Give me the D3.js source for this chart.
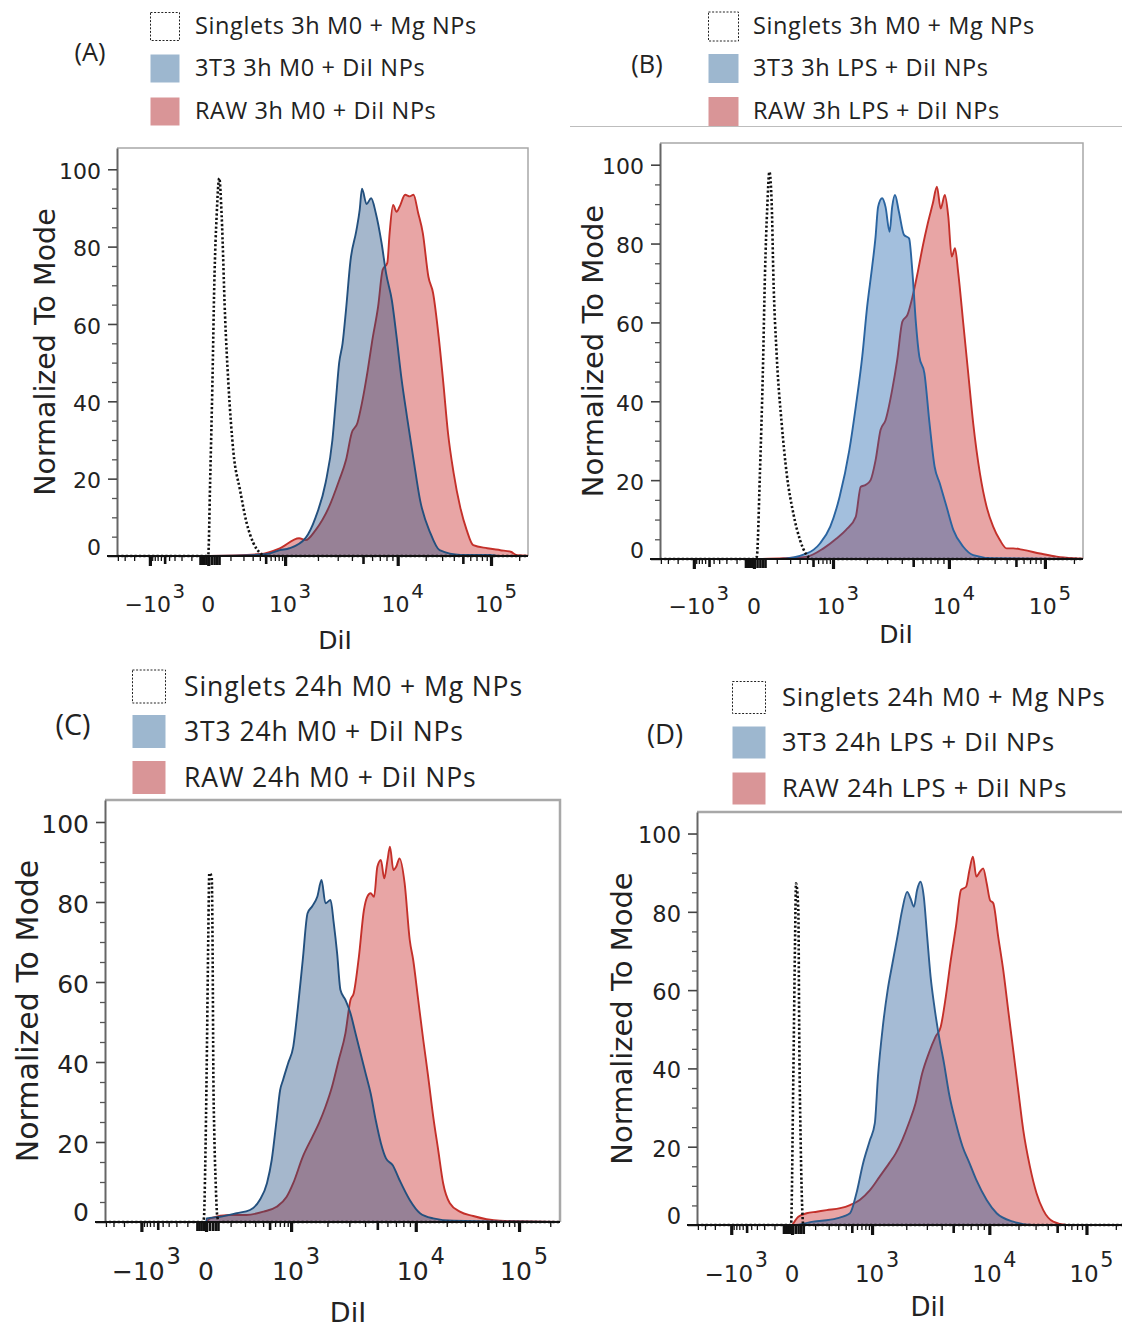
<!DOCTYPE html>
<html>
<head>
<meta charset="utf-8">
<script src="https://cdn.jsdelivr.net/npm/d3@7"></script>
<style>
  body { margin: 0; background: #fff; }
  svg { display: block; }
</style>
</head>
<body>
<div id="chart"></div>
<script>
// ---------------- data ----------------
const PANEL_LETTERS = ["(A)", "(B)", "(C)", "(D)"];
const LEGENDS = [
  ["Singlets 3h M0 + Mg NPs", "3T3 3h M0 + DiI NPs", "RAW 3h M0 + DiI NPs"],
  ["Singlets 3h M0 + Mg NPs", "3T3 3h LPS + DiI NPs", "RAW 3h LPS + DiI NPs"],
  ["Singlets 24h M0 + Mg NPs", "3T3 24h M0 + DiI NPs", "RAW 24h M0 + DiI NPs"],
  ["Singlets 24h M0 + Mg NPs", "3T3 24h LPS + DiI NPs", "RAW 24h LPS + DiI NPs"],
];
const Y_TITLE = "Normalized To Mode";
const X_TITLE = "DiI";
const Y_TICKS = [0, 20, 40, 60, 80, 100];
const Y_MINOR = [5, 10, 15, 25, 30, 35, 45, 50, 55, 65, 70, 75, 85, 90, 95];
const X_TICKS = [-1000, 0, 1000, 10000, 100000];
const X_TICK_LABELS = [["\u221210", "3"], ["0", ""], ["10", "3"], ["10", "4"], ["10", "5"]];
const X_MID = [-500, 500, 5000, 50000];
const X_ZERO = [-40, -30, -20, -10, 10, 20, 30, 40];
const X_MINOR = [-4000, -3000, -2000, -900, -800, -700, -600, -400, -300, -200, -100,
  100, 200, 300, 400, 600, 700, 800, 900,
  2000, 3000, 4000, 6000, 7000, 8000, 9000,
  20000, 30000, 40000, 60000, 70000, 80000, 90000, 200000];

// singlets: [DiI, % of mode]
const A_SINGLETS = [[-5000, 0], [-6, 0], [0, 0.2], [6, 19], [14, 45], [21, 71], [30, 88], [41, 97.7],
  [52, 88], [69, 62], [87, 45], [119, 27], [170, 17], [232, 8.5], [308, 3.4], [403, 0.8], [500, 0], [300000, 0]];
const B_SINGLETS = [[-5000, 0], [0, 0], [9, 0.5], [20, 21.8], [31, 47], [40, 72.5], [50, 89.3], [60, 98.2],
  [72, 89.3], [80, 72.5], [100, 51.3], [132, 34.4], [170, 21.7], [230, 11.6], [305, 4.8], [395, 1], [477, 0], [300000, 0]];
const C_SINGLETS = [[-5000, 0], [-12, 0], [-8, 1], [-3, 13.8], [2, 38.8], [6.7, 72], [9.7, 87.2],
  [17.4, 86.3], [20.8, 63.8], [22.8, 38.8], [26.3, 22.2], [31.4, 9.7], [37.5, 1.3], [45, 0], [300000, 0]];
const D_SINGLETS = [[-5000, 0], [-4, 0], [4, 37.9], [9.4, 72], [12.7, 87.3], [20.8, 80.5],
  [24.4, 46.4], [29.7, 20.9], [36, 3.8], [40, 0], [300000, 0]];

// 3T3 and RAW: [log10 DiI, % of mode]
const A_3T3 = [[0.5, 0], [2.43, 0.2], [2.72, 0.5], [2.92, 1.5], [3.04, 2], [3.19, 4.7], [3.28, 10], [3.37, 19],
  [3.43, 30], [3.46, 40], [3.49, 50], [3.52, 55], [3.55, 63.6], [3.59, 76.5], [3.64, 84], [3.67, 89.5],
  [3.69, 95], [3.73, 91], [3.77, 92.5], [3.81, 88.7], [3.86, 81], [3.90, 73], [3.95, 66], [3.99, 56.7],
  [4.04, 46], [4.10, 36], [4.17, 25], [4.24, 14.5], [4.35, 6], [4.45, 1.5], [4.67, 0.3], [4.99, 0.3],
  [5.1, 0], [5.5, 0]];
const A_RAW = [[0.5, 0], [2.61, 0.5], [2.92, 2], [3.13, 4.6], [3.19, 4.1], [3.28, 6.7], [3.40, 12.7],
  [3.49, 19.6], [3.55, 24.8], [3.60, 31.8], [3.65, 34.4], [3.69, 39.6], [3.74, 48], [3.78, 55.8],
  [3.83, 64.4], [3.87, 74], [3.91, 75.8], [3.93, 83.5], [3.96, 90.8], [3.99, 89], [4.02, 90.3],
  [4.08, 93.4], [4.13, 93], [4.17, 93.4], [4.22, 88.7], [4.27, 83.5], [4.33, 72.2], [4.38, 68],
  [4.44, 56.7], [4.49, 44.7], [4.54, 31.8], [4.60, 21.5], [4.67, 12.7], [4.74, 6.7], [4.81, 2.8],
  [4.96, 2], [5.10, 1.5], [5.21, 1.1], [5.28, 0.2], [5.5, 0]];

const B_3T3 = [[0.5, 0], [2.08, 0], [2.60, 1.4], [2.81, 4], [2.96, 8.2], [3.06, 15.8], [3.147, 27.6],
  [3.204, 38.6], [3.261, 51.3], [3.304, 64], [3.347, 74], [3.377, 81.7], [3.399, 89.3], [3.434, 91.5],
  [3.463, 89.3], [3.498, 83], [3.52, 89.3], [3.544, 92.3], [3.578, 88], [3.621, 82.2], [3.664, 81.3],
  [3.693, 72.5], [3.722, 59.8], [3.751, 51.3], [3.794, 47.1], [3.837, 34.4], [3.88, 23.4], [3.923, 19.2],
  [3.98, 13.3], [4.046, 7.4], [4.15, 3.1], [4.254, 1], [4.463, 0.2], [5.5, 0]];
const B_RAW = [[0.5, 0], [2.16, 0.2], [2.60, 0.6], [2.86, 2.7], [3.032, 5.2], [3.118, 7.4], [3.204, 10.7],
  [3.248, 18.3], [3.291, 18.8], [3.334, 20], [3.377, 25], [3.42, 32.7], [3.463, 35.2], [3.52, 42.9],
  [3.563, 50.5], [3.607, 60.2], [3.65, 61.9], [3.693, 66.5], [3.736, 72.5], [3.779, 79.2], [3.822, 85.1],
  [3.865, 90.2], [3.899, 94.4], [3.931, 88.9], [3.966, 92.3], [3.995, 86.8], [4.029, 76.7], [4.064, 78.8],
  [4.098, 72.5], [4.15, 59.8], [4.202, 47.1], [4.254, 34.4], [4.324, 21.7], [4.393, 13.3], [4.462, 8.2],
  [4.532, 4.8], [4.602, 2.7], [4.671, 2.7], [4.775, 2.3], [4.949, 1.4], [5.123, 0.6], [5.296, 0.2], [5.5, 0]];

const C_3T3 = [[0, 0], [0.3, 0.9], [1.68, 1.3], [2.14, 2.2], [2.39, 3], [2.55, 5.5], [2.66, 9.7], [2.73, 15.5],
  [2.80, 25.5], [2.85, 33], [2.89, 35.5], [2.96, 39.7], [3.018, 43.8], [3.058, 53.8], [3.098, 65.5],
  [3.138, 77.2], [3.178, 79], [3.218, 81.3], [3.253, 85.5], [3.285, 79.7], [3.326, 80.5], [3.352, 74.7],
  [3.379, 67.2], [3.406, 58], [3.446, 55.5], [3.486, 52.2], [3.526, 47.2], [3.566, 42.2], [3.606, 37.2],
  [3.646, 32.2], [3.686, 25.5], [3.727, 19.7], [3.767, 15.9], [3.82, 14.2], [3.873, 10.5], [3.953, 5.5],
  [4.041, 2.2], [4.17, 0.9], [4.363, 0.3], [5.5, 0]];
const C_RAW = [[0, 0], [1.08, 0.9], [1.99, 1.75], [2.33, 1.75], [2.61, 2.6], [2.80, 3.8], [2.94, 6.3],
  [3.018, 9.7], [3.098, 16.3], [3.178, 21.3], [3.232, 24.7], [3.285, 28.8], [3.338, 33.8], [3.392, 40.5],
  [3.446, 47.2], [3.486, 55.5], [3.512, 57.2], [3.553, 66.3], [3.593, 78], [3.619, 81.3], [3.646, 82.2],
  [3.673, 81.3], [3.699, 88.8], [3.727, 90.5], [3.753, 85.9], [3.779, 90.5], [3.798, 93.8], [3.825, 88],
  [3.847, 88.8], [3.873, 90.9], [3.913, 84.7], [3.953, 70.5], [3.98, 65.5], [4.024, 55.5], [4.073, 45.5],
  [4.121, 36.3], [4.17, 26.3], [4.218, 18], [4.266, 9.7], [4.331, 4.7], [4.428, 2.6], [4.557, 1.5],
  [4.686, 0.7], [4.815, 0.3], [5.5, 0]];

const D_3T3 = [[0, 0], [0.6, 0], [1.95, 0.85], [2.45, 1.7], [2.67, 3], [2.77, 8.1], [2.87, 15.8], [2.97, 21.7],
  [3.025, 26], [3.053, 37.9], [3.096, 50.6], [3.139, 60], [3.181, 66.8], [3.224, 73.6], [3.266, 80.5],
  [3.309, 85.1], [3.338, 83.4], [3.367, 81.3], [3.394, 85.6], [3.423, 87.7], [3.451, 83.9], [3.48, 73.6],
  [3.509, 63.4], [3.537, 56.6], [3.58, 48.1], [3.622, 41.3], [3.664, 33.6], [3.722, 26], [3.778, 20],
  [3.835, 15.8], [3.892, 11.5], [3.978, 6.4], [4.076, 3], [4.247, 0.85], [4.453, 0], [5.5, 0]];
const D_RAW = [[0, 0], [1.32, 2.1], [1.74, 3], [2.04, 3.4], [2.26, 3.8], [2.51, 4.3], [2.67, 5.1], [2.82, 6.4],
  [2.97, 8.9], [3.067, 12.3], [3.153, 15.8], [3.21, 18.3], [3.266, 21.7], [3.323, 26], [3.381, 31.1],
  [3.437, 38.7], [3.494, 43.9], [3.551, 48.1], [3.594, 50.6], [3.637, 58.3], [3.679, 67.7], [3.722, 76.2],
  [3.765, 85.6], [3.807, 86.4], [3.835, 90.7], [3.864, 94.1], [3.892, 89], [3.921, 90.2], [3.949, 91.1],
  [3.978, 87.3], [4.007, 83], [4.041, 82.2], [4.092, 73.6], [4.144, 65.1], [4.195, 54.9], [4.247, 44.7],
  [4.298, 34.5], [4.35, 24.3], [4.419, 14.9], [4.487, 8.1], [4.556, 3.8], [4.659, 0.85], [4.796, 0], [5.5, 0]];

const SINGLETS = [A_SINGLETS, B_SINGLETS, C_SINGLETS, D_SINGLETS];
const CELLS_3T3 = [A_3T3, B_3T3, C_3T3, D_3T3];
const CELLS_RAW = [A_RAW, B_RAW, C_RAW, D_RAW];

// ---------------- layout ----------------
const Y_MAX = 105.5;
const X_ANCHORS = [0.08, 0.222, 0.409, 0.683, 0.91]; // share of plot width for X_TICKS

const LAYOUT = [
  { left: 117, right: 528, top: 148, bottom: 556, yTick: 22, xTick: 22, yTitle: 28.5, xTitle: 25,
    yTitleX: 45, xTitleX: 335, xTitleY: 640, xLabDy: 48,
    letterX: 90, letterY: 52, swX: 150, swW: 29, swH: 28, rows: [26, 68, 111], textX: 195,
    legFont: 23.5, legSpacing: 0.6, frame: 1.5,
    blueFill: "rgb(30,75,128)", blueLine: "#23507e" },
  { left: 660, right: 1083, top: 143, bottom: 559, yTick: 22, xTick: 22, yTitle: 29, xTitle: 25,
    yTitleX: 593, xTitleX: 896, xTitleY: 634, xLabDy: 47,
    letterX: 647, letterY: 64, swX: 708, swW: 30, swH: 29, rows: [26, 68, 111], textX: 753,
    legFont: 23.5, legSpacing: 0.6, frame: 1.5,
    blueFill: "rgb(25,95,170)", blueLine: "#2a64a0" },
  { left: 105, right: 560, top: 800, bottom: 1222, yTick: 25, xTick: 25, yTitle: 30, xTitle: 27,
    yTitleX: 27, xTitleX: 348, xTitleY: 1312, xLabDy: 49,
    letterX: 73, letterY: 725, swX: 132, swW: 33, swH: 33, rows: [686, 731, 777], textX: 184,
    legFont: 26.5, legSpacing: 0.9, frame: 2.5,
    blueFill: "rgb(30,75,128)", blueLine: "#23507e" },
  { left: 697, right: 1125, top: 812, bottom: 1225, yTick: 22.5, xTick: 23, yTitle: 29, xTitle: 26,
    yTitleX: 622, xTitleX: 928, xTitleY: 1307, xLabDy: 49,
    letterX: 665, letterY: 734, swX: 732, swW: 33, swH: 32, rows: [697, 742, 788], textX: 782,
    legFont: 25.5, legSpacing: 0.75, frame: 2.5,
    blueFill: "rgb(30,85,150)", blueLine: "#2c5c8e" },
];

const COLORS = {
  redFill: "rgb(205,55,55)", redLine: "#c4302a",
  blueSwatch: "#9db7cf", redSwatch: "#d99597",
  frame: "#a8a8a8", axis: "#666", text: "#222",
};
const AXIS_FONT = "'DejaVu Sans', sans-serif";
const LEGEND_FONT = "'Open Sans', sans-serif";

const svg = d3.select("#chart").append("svg")
  .attr("width", 1122).attr("height", 1327);

// thin separator under the legend of panel B
svg.append("line")
  .attr("x1", 570).attr("x2", 1122).attr("y1", 126.5).attr("y2", 126.5)
  .attr("stroke", "#bdbdbd").attr("stroke-width", 1);

LAYOUT.forEach((L, i) => drawPanel(i, L));

function drawPanel(i, L) {
  const w = L.right - L.left;
  const h = L.bottom - L.top;

  const x = d3.scaleSymlog().constant(100)
    .domain(X_TICKS)
    .range(X_ANCHORS.map((f) => f * w));
  const y = d3.scaleLinear().domain([0, Y_MAX]).range([h, 0]);

  const g = svg.append("g").attr("transform", `translate(${L.left},${L.top})`);

  g.append("clipPath").attr("id", `clip-${i}`)
    .append("rect").attr("x", 0).attr("y", -2).attr("width", w).attr("height", h + 4);

  // frame (top + right)
  g.append("path")
    .attr("d", `M0,0H${w}V${h}`)
    .attr("fill", "none").attr("stroke", COLORS.frame).attr("stroke-width", L.frame);

  const plot = g.append("g").attr("clip-path", `url(#clip-${i})`);

  const fromLog = (d) => Math.pow(10, d[0]);
  const area = (fx) => d3.area().x((d) => x(fx(d))).y0(y(0)).y1((d) => y(d[1])).curve(d3.curveMonotoneX);
  const line = (fx) => d3.line().x((d) => x(fx(d))).y((d) => y(d[1])).curve(d3.curveMonotoneX);

  // RAW (red) first, 3T3 (blue) on top
  plot.append("path").datum(CELLS_RAW[i]).attr("d", area(fromLog))
    .attr("fill", COLORS.redFill).attr("fill-opacity", 0.45);
  plot.append("path").datum(CELLS_RAW[i]).attr("d", line(fromLog))
    .attr("fill", "none").attr("stroke", COLORS.redLine).attr("stroke-width", 1.9);
  plot.append("path").datum(CELLS_3T3[i]).attr("d", area(fromLog))
    .attr("fill", L.blueFill).attr("fill-opacity", 0.4);
  plot.append("path").datum(CELLS_3T3[i]).attr("d", line(fromLog))
    .attr("fill", "none").attr("stroke", L.blueLine).attr("stroke-width", 1.9);

  // Singlets, dotted
  plot.append("path").datum(SINGLETS[i]).attr("d", line((d) => d[0]))
    .attr("fill", "none").attr("stroke", "#111").attr("stroke-width", 2.6)
    .attr("stroke-dasharray", "2.2,2.2");

  // y axis
  const yAxis = g.append("g").call(d3.axisLeft(y).tickValues(Y_TICKS).tickSize(9).tickSizeOuter(0).tickPadding(7));
  yAxis.select(".domain").attr("stroke", COLORS.axis).attr("stroke-width", 2);
  yAxis.selectAll(".tick line").attr("stroke", "#444").attr("stroke-width", 1.6);
  yAxis.selectAll(".tick text")
    .attr("font-family", AXIS_FONT).attr("font-size", L.yTick).attr("fill", COLORS.text)
    .attr("dy", (d) => (d === 0 ? "-0.05em" : "0.42em"));
  g.append("g").call(d3.axisLeft(y).tickValues(Y_MINOR).tickSize(5).tickFormat(""))
    .call((a) => a.select(".domain").remove())
    .selectAll(".tick line").attr("stroke", "#555").attr("stroke-width", 1.3);

  // x axis: baseline + biexponential ticks
  g.append("line").attr("x1", -10).attr("x2", w).attr("y1", h).attr("y2", h)
    .attr("stroke", "#111").attr("stroke-width", 2);
  const inside = (vals) => vals.filter((v) => x(v) >= 0 && x(v) <= w);
  const tickRow = (vals, size, width) => {
    const a = g.append("g").attr("transform", `translate(0,${h})`)
      .call(d3.axisBottom(x).tickValues(inside(vals)).tickSize(size).tickFormat(""));
    a.select(".domain").remove();
    a.selectAll(".tick line").attr("stroke", "#111").attr("stroke-width", width);
  };
  tickRow(X_MINOR, 5, 1.3);
  tickRow(X_MID, 8, 2.6);
  tickRow(X_ZERO, 9, 2.6);
  tickRow(X_TICKS, 10, 3.2);

  const labs = g.append("g").attr("font-family", AXIS_FONT).attr("fill", COLORS.text)
    .attr("font-size", L.xTick).attr("text-anchor", "middle");
  X_TICKS.forEach((v, k) => {
    const [base, sup] = X_TICK_LABELS[k];
    const t = labs.append("text")
      .attr("x", x(v) + (sup ? 5 : 0)).attr("y", h + L.xLabDy).attr("dy", "0.36em");
    t.append("tspan").text(base);
    if (sup) t.append("tspan").attr("font-size", L.xTick * 0.9).attr("dy", "-0.72em").attr("dx", "0.08em").text(sup);
  });

  // titles (page coordinates)
  svg.append("text")
    .attr("transform", `translate(${L.yTitleX},${(L.top + L.bottom) / 2}) rotate(-90)`)
    .attr("text-anchor", "middle").attr("dy", "0.36em")
    .attr("font-family", AXIS_FONT).attr("font-size", L.yTitle).attr("fill", COLORS.text)
    .text(Y_TITLE);
  svg.append("text")
    .attr("x", L.xTitleX).attr("y", L.xTitleY).attr("dy", "0.36em")
    .attr("text-anchor", "middle")
    .attr("font-family", AXIS_FONT).attr("font-size", L.xTitle).attr("fill", COLORS.text)
    .text(X_TITLE);

  // legend
  const leg = svg.append("g").attr("font-family", LEGEND_FONT).attr("fill", COLORS.text)
    .attr("font-size", L.legFont);
  leg.append("text").attr("x", L.letterX).attr("y", L.letterY + L.legFont * 0.38)
    .attr("text-anchor", "middle").attr("font-size", L.legFont * 1.08).text(PANEL_LETTERS[i]);
  const swatch = [
    { fill: "#fff", stroke: "#222", dash: "2,1.6" },
    { fill: COLORS.blueSwatch, stroke: "none", dash: null },
    { fill: COLORS.redSwatch, stroke: "none", dash: null },
  ];
  LEGENDS[i].forEach((label, k) => {
    const cy = L.rows[k];
    leg.append("rect")
      .attr("x", L.swX + 0.5).attr("y", cy - L.swH / 2 + 0.5)
      .attr("width", L.swW).attr("height", L.swH)
      .attr("fill", swatch[k].fill).attr("stroke", swatch[k].stroke)
      .attr("stroke-width", 1).attr("stroke-dasharray", swatch[k].dash);
    leg.append("text").attr("x", L.textX).attr("y", cy + L.legFont * 0.36)
      .attr("letter-spacing", L.legSpacing).text(label);
  });
}
</script>
</body>
</html>
